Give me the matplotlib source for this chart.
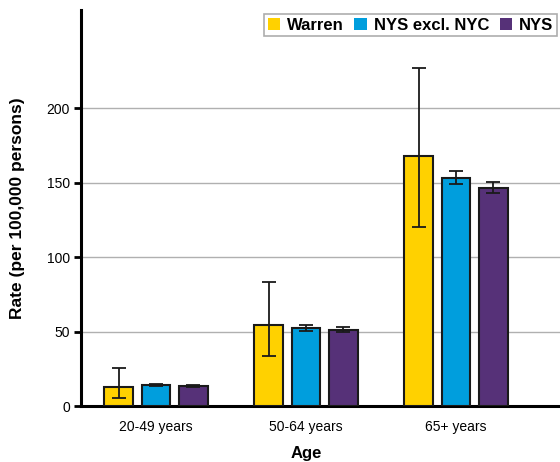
import numpy as np
import matplotlib
matplotlib.use('Agg')
import matplotlib.pyplot as plt

plt.rcParams['font.family'] = ['Liberation Sans', 'DejaVu Sans']

ages = ['20-49 years', '50-64 years', '65+ years']
series = ['Warren', 'NYS excl. NYC', 'NYS']
colors = ['#FFD100', '#009EDD', '#563178']

rates = [
    [12.6, 54.5, 168.0],
    [13.9, 52.6, 153.3],
    [13.5, 51.2, 146.6],
]
lower = [
    [5.4, 33.7, 120.5],
    [13.1, 50.7, 149.3],
    [12.9, 49.4, 143.2],
]
upper = [
    [25.4, 83.5, 227.0],
    [14.7, 54.7, 157.6],
    [14.1, 53.0, 150.6],
]

fig = plt.figure(figsize=(5.6, 4.62), dpi=100)
# axes runs past the right edge, like the cropped original
ax = fig.add_axes([81 / 560, 56 / 462, 600 / 560, 396 / 462])

x = np.arange(len(ages))
width = 0.193
step = 0.247
for i, name in enumerate(series):
    vals = np.array(rates[i])
    err = np.array([vals - np.array(lower[i]), np.array(upper[i]) - vals])
    ax.bar(x + (i - 1) * step, vals, width, color=colors[i], edgecolor='#1a1a1a',
           linewidth=1.5, label=name, zorder=3)
    ax.errorbar(x + (i - 1) * step, vals, yerr=err, fmt='none', ecolor='#1a1a1a',
                elinewidth=1.3, capsize=5, capthick=1.3, zorder=4)

ax.set_xlim(-0.5, 3.5)
ax.set_ylim(0, 266)
ax.set_yticks([0, 50, 100, 150, 200])
ax.set_xticks(x)
ax.set_xticklabels(ages, fontsize=10)
ax.tick_params(axis='x', length=0, pad=10)
ax.tick_params(axis='y', length=5, width=2, labelsize=10, pad=3)
ax.yaxis.grid(True, color='#b0b0b0', linewidth=1, zorder=0)
ax.set_axisbelow(True)
for s in ['top', 'right']:
    ax.spines[s].set_visible(False)
for s in ['left', 'bottom']:
    ax.spines[s].set_linewidth(2.2)
    ax.spines[s].set_color('black')

ax.set_xlabel('Age', fontsize=12, fontweight='bold')
ax.set_ylabel('Rate (per 100,000 persons)', fontsize=12.5, fontweight='bold')
# label centred under the three groups, not under the whole (cut) axis
ax.xaxis.set_label_coords(1.5 / 4, -40 / 396)
ax.yaxis.set_label_coords(-56 / 600, 0.5)

leg = fig.legend(loc='upper left', bbox_to_anchor=(264 / 560, 1 - 14 / 462), ncol=3,
                 frameon=True, fancybox=False, edgecolor='#999999',
                 prop={'weight': 'bold', 'size': 12}, handlelength=0.75, handleheight=0.7,
                 handletextpad=0.4, columnspacing=0.65, borderpad=0.22, borderaxespad=0)
leg.get_frame().set_linewidth(1.2)
for h in leg.legend_handles:
    h.set_linewidth(0)

fig.savefig('out.png', dpi=100)
